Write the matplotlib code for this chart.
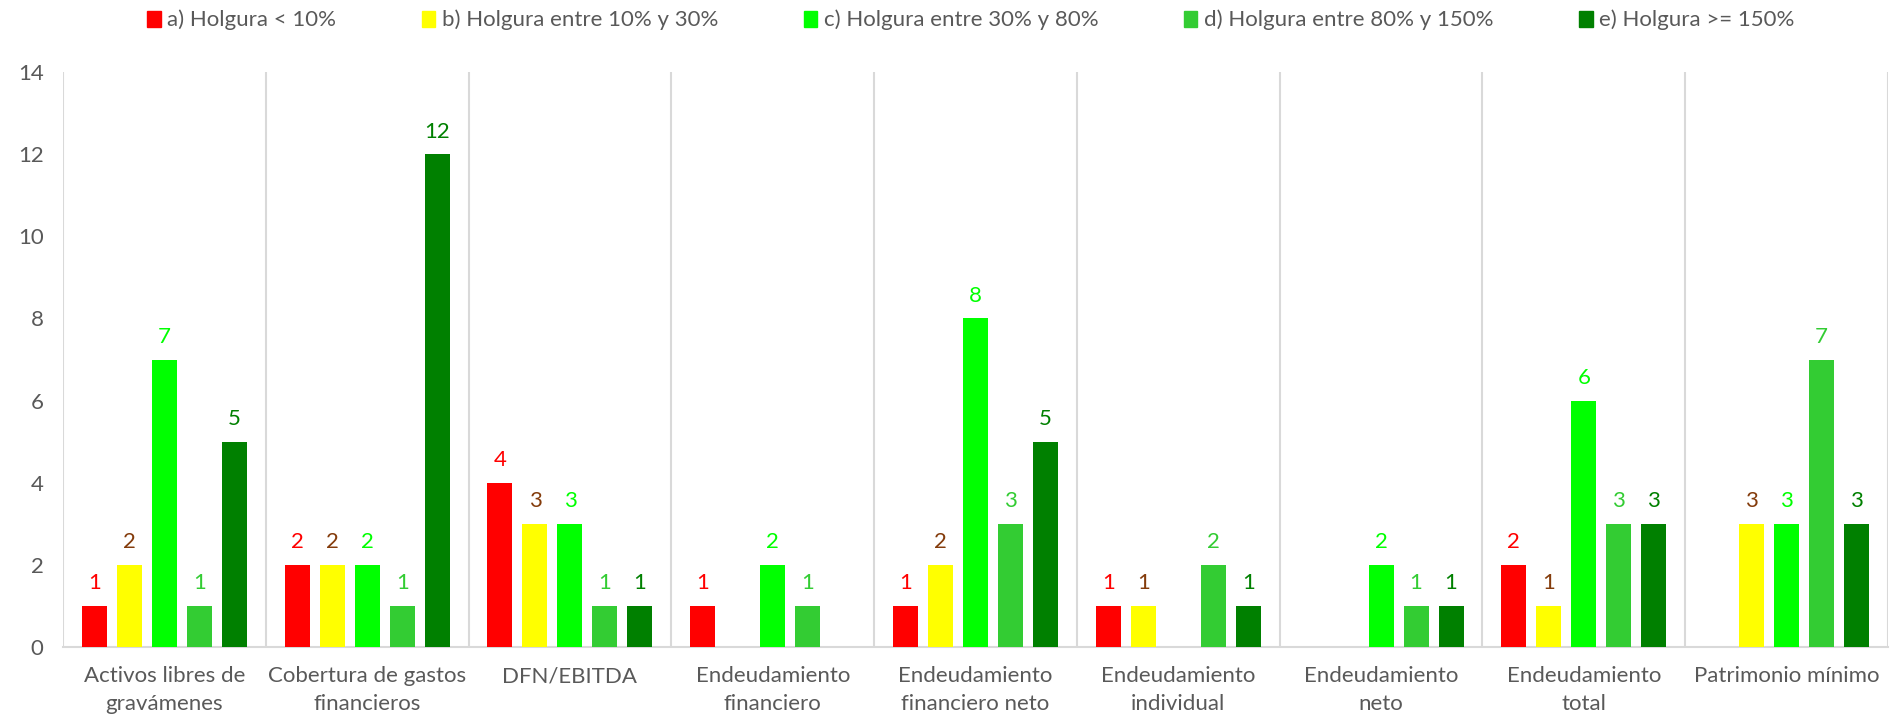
import matplotlib
matplotlib.use("Agg")
import matplotlib.pyplot as plt
import numpy as np

categories = ["Activos libres de\ngravámenes", "Cobertura de gastos\nfinancieros", "DFN/EBITDA",
              "Endeudamiento\nfinanciero", "Endeudamiento\nfinanciero neto", "Endeudamiento\nindividual",
              "Endeudamiento\nneto", "Endeudamiento\ntotal", "Patrimonio mínimo"]
series_names = ["a) Holgura < 10%", "b) Holgura entre 10% y 30%", "c) Holgura entre 30% y 80%",
                "d) Holgura entre 80% y 150%", "e) Holgura >= 150%"]
a_vals = [1, 2, 4, 1, 1, 1, 0, 2, 0]
b_vals = [2, 2, 3, 0, 2, 1, 0, 1, 3]
c_vals = [7, 2, 3, 2, 8, 0, 2, 6, 3]
d_vals = [1, 1, 1, 1, 3, 2, 1, 3, 7]
e_vals = [5, 12, 1, 0, 5, 1, 1, 3, 3]
series = [a_vals, b_vals, c_vals, d_vals, e_vals]
bar_colors = ["#FF0000", "#FFFF00", "#00FF00", "#33CC33", "#008000"]
label_colors = ["#FF0000", "#843C0C", "#00FF00", "#33CC33", "#008000"]
yticks = [0, 2, 4, 6, 8, 10, 12, 14]

plt.rcParams['font.family'] = ['Lato', 'DejaVu Sans']
fig = plt.figure(figsize=(19.04, 7.21), dpi=100)
ax = fig.add_axes([0.0331, 0.1026, 0.9585, 0.7975])

n = len(categories)
x = np.arange(n)
step = 0.1726
width = 0.123
fs = 16
handles = []
for i, (vals, col, lcol) in enumerate(zip(series, bar_colors, label_colors)):
    pos = x + (i - 2) * step
    v = np.array(vals, dtype=float)
    mask = v > 0
    ax.bar(pos[mask], v[mask], width=width, color=col, zorder=3)
    handles.append(plt.Rectangle((0, 0), 1, 1, color=col))
    for p, val in zip(pos[mask], v[mask]):
        ax.annotate(f"{int(val)}", (p, val), xytext=(0, 9), textcoords="offset points",
                    ha="center", va="bottom", color=lcol, fontsize=fs)

ax.set_xlim(-0.5, n - 0.5)
ax.set_ylim(0, 14)
ax.set_yticks(yticks)
ax.set_xticks(x)
ax.set_xticklabels(categories, fontsize=fs, color="#595959", linespacing=1.45)
ax.tick_params(axis="y", labelsize=fs, colors="#595959", length=0, pad=14)
ax.tick_params(axis="x", length=0, pad=14)
for b in np.arange(-0.5, n, 1.0):
    ax.axvline(b, color="#D9D9D9", lw=1.5, zorder=1)
for s in ["top", "right", "left"]:
    ax.spines[s].set_visible(False)
ax.spines["bottom"].set_color("#D9D9D9")
ax.spines["bottom"].set_linewidth(1.5)

fig.legend(handles, series_names, loc="center", bbox_to_anchor=(0.51, 0.972), ncol=5,
           frameon=False, fontsize=fs, labelcolor="#595959", handlelength=0.6,
           handleheight=0.75, handletextpad=0.3, columnspacing=3.85)

fig.savefig("out.png", dpi=100)
